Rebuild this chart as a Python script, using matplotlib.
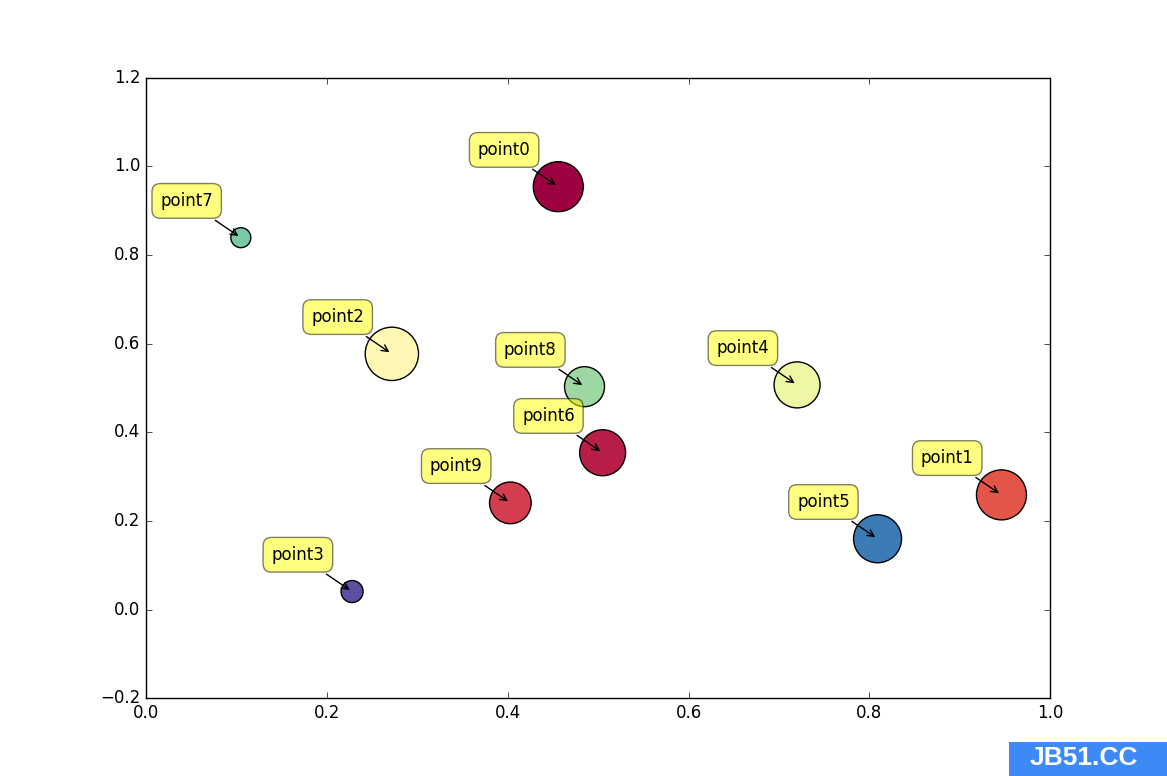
import matplotlib
matplotlib.use('Agg')
import matplotlib.pyplot as plt
from matplotlib.patches import Rectangle

plt.style.use('classic')

labels = ['point0', 'point1', 'point2', 'point3', 'point4',
          'point5', 'point6', 'point7', 'point8', 'point9']
xs = [0.456, 0.946, 0.272, 0.228, 0.720, 0.809, 0.505, 0.105, 0.485, 0.403]
ys = [0.954, 0.259, 0.577, 0.041, 0.507, 0.160, 0.354, 0.839, 0.503, 0.241]
sizes = [1296, 1296, 1474, 251, 1097, 1194, 1097, 207, 829, 901]
colors = [0.0, 0.15, 0.48, 1.0, 0.57, 0.92, 0.05, 0.77, 0.72, 0.1]

fig = plt.figure(figsize=(11.67, 7.76), dpi=100)
fig.patch.set_facecolor('white')
ax = fig.add_subplot(111)
fig.subplots_adjust(left=0.125, right=0.9, bottom=0.1, top=0.9)

ax.scatter(xs, ys, s=sizes, c=colors, cmap='Spectral', vmin=0, vmax=1,
           edgecolors='black', linewidths=1, zorder=2)

for lab, x, y in zip(labels, xs, ys):
    ax.annotate(lab, xy=(x, y), xytext=(-20, 20),
                textcoords='offset points', ha='right', va='bottom',
                fontsize=12,
                bbox=dict(boxstyle='round,pad=0.5', fc='yellow', alpha=0.5),
                arrowprops=dict(arrowstyle='->', connectionstyle='arc3,rad=0'),
                zorder=3)

ax.set_xlim(0, 1.0)
ax.set_ylim(-0.2, 1.2)
ax.set_xticks([0.0, 0.2, 0.4, 0.6, 0.8, 1.0])
ax.set_yticks([-0.2, 0.0, 0.2, 0.4, 0.6, 0.8, 1.0, 1.2])

# watermark box in the corner
fig.patches.append(Rectangle((1009 / 1167, 0), 158 / 1167, 34 / 776,
                             transform=fig.transFigure, facecolor='#3d8af7',
                             edgecolor='none', zorder=5))
fig.text(1084 / 1167, 18 / 776, 'JB51.CC', color='white',
         fontsize=19, fontweight='bold', family='Liberation Sans',
         ha='center', va='center', zorder=6)

fig.savefig('out.png', dpi=100, facecolor='white')
